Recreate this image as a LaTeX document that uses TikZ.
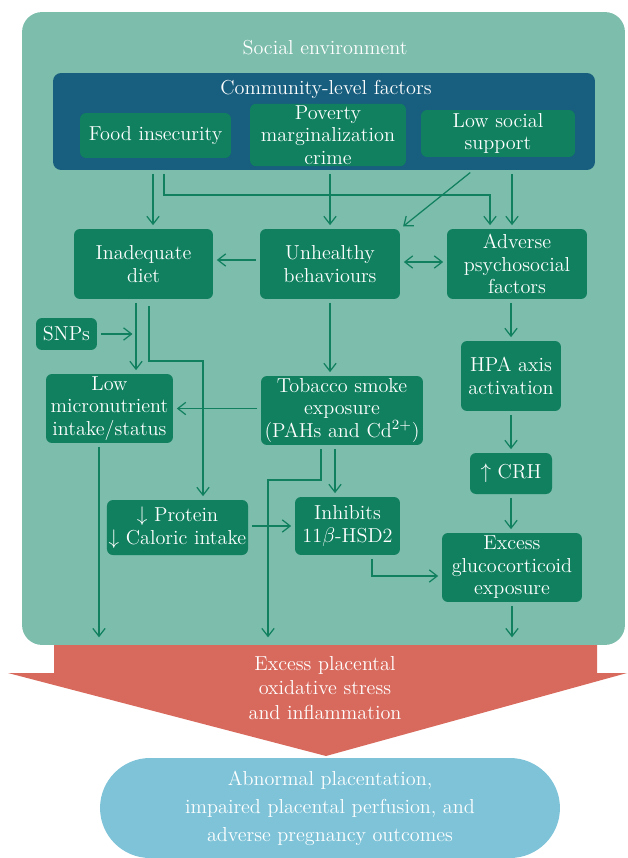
\documentclass[tikz,border=0pt]{standalone}
\usepackage{tikz}
\usepackage{xcolor}
\usetikzlibrary{positioning, arrows.meta}

\definecolor{envteal}{RGB}{124,189,171}
\definecolor{commblue}{RGB}{24,94,126}
\definecolor{boxgreen}{RGB}{16,128,94}
\definecolor{stressred}{RGB}{216,106,93}
\definecolor{outcomeblue}{RGB}{126,195,216}

\begin{document}
\begin{tikzpicture}[
      x=0.02cm, y=-0.02cm,
      font=\fontsize{11.5}{12.8}\selectfont,
      >={Straight Barb[length=4.5pt,width=7pt]},
      box/.style={
        rectangle,
        rounded corners=0.12cm,
        fill=boxgreen,
        text=white,
        align=center,
        inner sep=1pt
      },
      title/.style={text=white, align=center},
      arr/.style={->, boxgreen, line width=0.7pt, shorten <=2pt, shorten >=2pt}
    ]
    \useasboundingbox (0,0) rectangle (627,858);

    % Big red arrow behind the social environment
    \fill[stressred] (54,620) -- (597,620) -- (597,673) -- (627,673) -- (326,756)
      -- (8,673) -- (54,673) -- cycle;

    % Place nodes
    \node[fill=envteal, rounded corners=0.4cm, minimum width=12.06cm, minimum height=12.66cm, inner sep=0] (env) at (323.5,328.5) {};
    \node[title] (envlabel) at (325,48) {Social environment};
    \node[fill=commblue, rounded corners=0.16cm, minimum width=10.84cm, minimum height=1.94cm, inner sep=0] (comm) at (324,121.5) {};
    \node[title] (commlabel) at (326,89) {Community-level factors};

    \node[box, minimum width=3.02cm, minimum height=0.90cm] (food) at (155.5,135.5) {Food insecurity};
    \node[box, minimum width=3.12cm, minimum height=1.20cm] (poverty) at (328,135) {Poverty\\marginalization\\crime};
    \node[box, minimum width=3.08cm, minimum height=0.94cm] (lowsup) at (498,133.5) {Low social\\support};

    \node[box, minimum width=2.78cm, minimum height=1.40cm] (diet) at (143.5,264) {Inadequate\\diet};
    \node[box, minimum width=2.80cm, minimum height=1.40cm] (unhealthy) at (330,264) {Unhealthy\\behaviours};
    \node[box, minimum width=2.80cm, minimum height=1.40cm] (adverse) at (517,264) {Adverse\\psychosocial\\factors};

    \node[box, minimum width=1.22cm, minimum height=0.64cm] (snps) at (66.5,334) {SNPs};
    \node[box, minimum width=2.00cm, minimum height=1.40cm] (hpa) at (511,376) {HPA axis\\activation};
    \node[box, minimum width=2.54cm, minimum height=1.38cm] (lowmicro) at (109.5,408.5) {Low\\micronutrient\\intake/status};
    \node[box, minimum width=3.24cm, minimum height=1.38cm] (tobacco) at (342,410.5) {Tobacco smoke\\exposure\\(PAHs and Cd$^{2+}$)};
    \node[box, minimum width=1.64cm, minimum height=0.82cm] (crh) at (511,473.5) {$\uparrow$ CRH};
    \node[box, minimum width=2.78cm, minimum height=1.10cm] (protein) at (177.5,527.5) {$\downarrow$ Protein\\$\downarrow$ Caloric intake};
    \node[box, minimum width=2.10cm, minimum height=1.16cm] (inhibits) at (347.5,526) {Inhibits\\11$\beta$-HSD2};
    \node[box, minimum width=2.80cm, minimum height=1.38cm] (gluco) at (512,567.5) {Excess\\glucocorticoid\\exposure};

    \node[title, font=\fontsize{11.5}{14}\selectfont] (stress) at (325,688) {Excess placental\\oxidative stress\\and inflammation};
    \node[fill=outcomeblue, rounded corners=1cm, minimum width=9.2cm, minimum height=2cm, text=white, align=center,
      font=\fontsize{11.5}{16}\selectfont] (outcome) at (330,808) {Abnormal placentation,\\impaired placental perfusion, and\\adverse pregnancy outcomes};

    % Connector columns and rows
    \coordinate (foodcol) at (153,0);
    \coordinate (foodcolb) at (164,0);
    \coordinate (supcol) at (473,0);
    \coordinate (advcol) at (512,0);
    \coordinate (advcolb) at (490,0);
    \coordinate (microcol) at (136,0);
    \coordinate (dietcol) at (149,0);
    \coordinate (protcol) at (203,0);
    \coordinate (downcol) at (99,0);
    \coordinate (smokecol) at (321,0);
    \coordinate (smokecolb) at (268,0);
    \coordinate (hsdcol) at (335,0);
    \coordinate (glucocol) at (372,0);
    \coordinate (splitrow) at (0,195);
    \coordinate (protrow) at (0,361);
    \coordinate (smokerow) at (0,480);
    \coordinate (glucorow) at (0,576);

    % Community factors to behaviours
    \draw[arr] (foodcol |- comm.south) -- (foodcol |- diet.north);
    \draw[arr] (foodcolb |- comm.south) -- (foodcolb |- splitrow) -| (advcolb |- adverse.north);
    \draw[arr] (unhealthy.north |- comm.south) -- (unhealthy.north);
    \draw[arr] (supcol |- comm.south) -- (unhealthy.north east);
    \draw[arr] (advcol |- comm.south) -- (advcol |- adverse.north);
    \draw[arr] ([yshift=0.08cm]unhealthy.west) -- ([yshift=0.08cm]diet.east);
    \draw[arr, <->] ([yshift=0.04cm]unhealthy.east) -- ([yshift=0.04cm]adverse.west);

    % Middle rows
    \draw[arr] (microcol |- diet.south) -- (microcol |- lowmicro.north);
    \draw[arr, shorten <=0.14cm] (dietcol |- diet.south) |- (protcol |- protrow) -- (protcol |- protein.north);
    \draw[arr] (snps.east) -- (microcol |- snps.east);
    \draw[arr] (unhealthy.south) -- (unhealthy.south |- tobacco.north);
    \draw[arr] (hpa.north |- adverse.south) -- (hpa.north);
    \draw[arr] (hpa.south) -- (hpa.south |- crh.north);
    \draw[arr] (tobacco.west |- lowmicro.east) -- (lowmicro.east);
    \draw[arr] (hsdcol |- tobacco.south) -- (hsdcol |- inhibits.north);
    \draw[arr] (crh.south) -- (crh.south |- gluco.north);
    \draw[arr] (inhibits.west -| protein.east) -- (inhibits.west);
    \draw[arr] (glucocol |- inhibits.south) |- (gluco.west |- glucorow);

    % Down into placental stress
    \draw[arr, shorten >=0.16cm] (downcol |- lowmicro.south) -- (downcol |- env.south);
    \draw[arr, shorten >=0.16cm] (smokecol |- tobacco.south) |- (smokecolb |- smokerow) -- (smokecolb |- env.south);
    \draw[arr, shorten >=0.16cm] (gluco.south) -- (gluco.south |- env.south);
  \end{tikzpicture}
\end{document}
